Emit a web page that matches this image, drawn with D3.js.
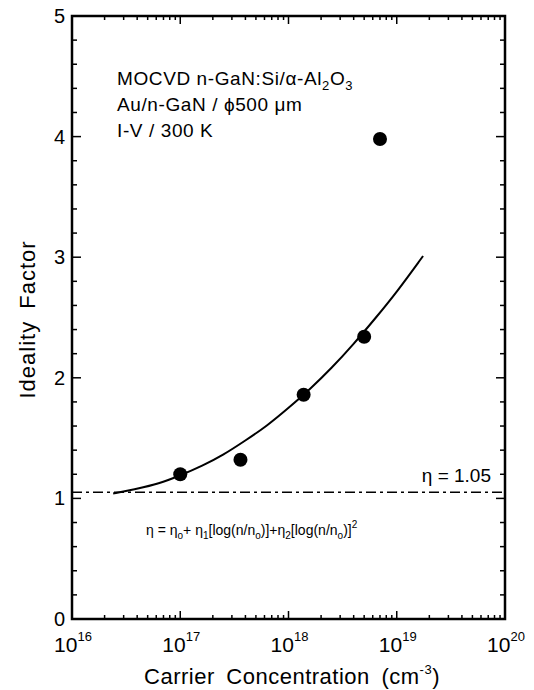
<!DOCTYPE html>
<html>
<head>
<meta charset="utf-8">
<script src="https://cdn.jsdelivr.net/npm/d3@7"></script>
<style>
  body { margin: 0; background: #fff; }
  text { font-family: "Liberation Sans", Arial, sans-serif; fill: #000; }
</style>
</head>
<body>
<svg width="534" height="690"></svg>
<script>
// measured points (carrier concentration, ideality factor)
var conc = [1.0e17, 3.6e17, 1.38e18, 5.0e18, 7.0e18];
var ideality = [1.20, 1.32, 1.86, 2.34, 3.98];

// fit curve
var fitConc = [2.4e16, 4e16, 6.3e16, 1e17, 1.6e17, 2.5e17, 4e17, 6.3e17, 1e18, 1.6e18, 2.5e18, 4e18, 6.3e18, 1e19, 1.75e19];
var fitIdeality = [1.04, 1.08, 1.12, 1.19, 1.27, 1.36, 1.48, 1.60, 1.75, 1.91, 2.08, 2.28, 2.49, 2.71, 3.01];

var etaLine = 1.05;
var yTicks = [0, 1, 2, 3, 4, 5];
var xTicks = [1e16, 1e17, 1e18, 1e19, 1e20];

var svg = d3.select("svg");
var plotL = 72, plotT = 16, plotR = 505, plotB = 619;

var x = d3.scaleLog().domain([1e16, 1e20]).range([plotL, plotR]);
var y = d3.scaleLinear().domain([0, 5]).range([plotB, plotT]);

// minor ticks
var xMinor = [];
for (var e = 16; e < 20; e++) {
    for (var m = 2; m <= 9; m++) xMinor.push(m * Math.pow(10, e));
}
var yMinor = d3.range(0, 5.001, 0.2).filter(function(v) { return Math.abs(v - Math.round(v)) > 0.01; });

var ticks = svg.append("g").attr("stroke", "#000").attr("stroke-width", 1.5);
// bottom and top
ticks.selectAll(".xb").data(xMinor).enter().append("line")
    .attr("x1", d => x(d)).attr("x2", d => x(d)).attr("y1", plotB).attr("y2", plotB - 4);
ticks.selectAll(".xt").data(xMinor).enter().append("line")
    .attr("x1", d => x(d)).attr("x2", d => x(d)).attr("y1", plotT).attr("y2", plotT + 4);
ticks.selectAll(".xbM").data(xTicks).enter().append("line")
    .attr("x1", d => x(d)).attr("x2", d => x(d)).attr("y1", plotB).attr("y2", plotB - 8);
ticks.selectAll(".xtM").data(xTicks).enter().append("line")
    .attr("x1", d => x(d)).attr("x2", d => x(d)).attr("y1", plotT).attr("y2", plotT + 8);
// left and right
ticks.selectAll(".yl").data(yMinor).enter().append("line")
    .attr("y1", d => y(d)).attr("y2", d => y(d)).attr("x1", plotL).attr("x2", plotL + 5);
ticks.selectAll(".yr").data(yMinor).enter().append("line")
    .attr("y1", d => y(d)).attr("y2", d => y(d)).attr("x1", plotR).attr("x2", plotR - 5);
ticks.selectAll(".ylM").data(yTicks).enter().append("line")
    .attr("y1", d => y(d)).attr("y2", d => y(d)).attr("x1", plotL).attr("x2", plotL + 9);
ticks.selectAll(".yrM").data(yTicks).enter().append("line")
    .attr("y1", d => y(d)).attr("y2", d => y(d)).attr("x1", plotR).attr("x2", plotR - 9);

// frame
svg.append("rect")
    .attr("x", plotL).attr("y", plotT)
    .attr("width", plotR - plotL).attr("height", plotB - plotT)
    .attr("fill", "none").attr("stroke", "#000").attr("stroke-width", 2.5);

// y tick labels
svg.append("g").selectAll("text").data(yTicks).enter().append("text")
    .attr("x", plotL - 7).attr("y", d => y(d) + 7)
    .attr("text-anchor", "end")
    .style("font-size", "20px")
    .text(d => d);

// x tick labels 10^n
var xl = svg.append("g").selectAll("text").data(xTicks).enter().append("text")
    .attr("x", d => x(d) + 1).attr("y", 652)
    .attr("text-anchor", "middle")
    .style("font-size", "21px");
xl.append("tspan").text("10");
xl.append("tspan").attr("dy", -11).style("font-size", "13px")
    .text(d => Math.round(Math.log10(d)));

// axis titles
svg.append("text")
    .attr("transform", "translate(35," + ((plotT + plotB) / 2 + 2) + ") rotate(-90)")
    .attr("text-anchor", "middle")
    .style("font-size", "22px")
    .style("letter-spacing", "1px")
    .style("word-spacing", "5px")
    .text("Ideality Factor");

var xt = svg.append("text")
    .attr("x", 292).attr("y", 684)
    .attr("text-anchor", "middle")
    .style("font-size", "22px")
    .style("letter-spacing", "0.5px")
    .style("word-spacing", "5px");
xt.append("tspan").text("Carrier Concentration (cm");
xt.append("tspan").attr("dy", -10).style("font-size", "13px").text("-3");
xt.append("tspan").attr("dy", 10).text(")");

// eta = 1.05 dash-dot line
svg.append("line")
    .attr("x1", x(1e16)).attr("x2", x(1e20))
    .attr("y1", y(etaLine)).attr("y2", y(etaLine))
    .attr("stroke", "#000").attr("stroke-width", 1.5)
    .attr("stroke-dasharray", "10,4,3,4");

svg.append("text")
    .attr("x", 491).attr("y", y(etaLine) - 10)
    .attr("text-anchor", "end")
    .style("font-size", "19px")
    .text("\u03B7 = 1.05");

// fit curve
var line = d3.line()
    .x(function(d, i) { return x(fitConc[i]); })
    .y(function(d, i) { return y(fitIdeality[i]); })
    .curve(d3.curveBasis);
svg.append("path")
    .datum(fitConc)
    .attr("d", line)
    .attr("fill", "none").attr("stroke", "#000").attr("stroke-width", 2);

// data points
svg.append("g").selectAll("circle").data(conc).enter().append("circle")
    .attr("cx", d => x(d))
    .attr("cy", (d, i) => y(ideality[i]))
    .attr("r", 7)
    .attr("fill", "#000");

// annotation
var notes = svg.append("g").style("font-size", "19px").style("letter-spacing", "0.6px");
var n1 = notes.append("text").attr("x", 117).attr("y", 85);
n1.append("tspan").text("MOCVD n-GaN:Si/\u03B1-Al");
n1.append("tspan").attr("dy", 5).style("font-size", "13px").text("2");
n1.append("tspan").attr("dy", -5).text("O");
n1.append("tspan").attr("dy", 5).style("font-size", "13px").text("3");
notes.append("text").attr("x", 117).attr("y", 111).text("Au/n-GaN / \u03D5500 \u03BCm");
notes.append("text").attr("x", 117).attr("y", 137).text("I-V / 300 K");

// formula
var f = svg.append("text").attr("x", 146).attr("y", 535).style("font-size", "14px");
f.append("tspan").text("\u03B7 = \u03B7");
f.append("tspan").attr("dy", 4).style("font-size", "10px").text("o");
f.append("tspan").attr("dy", -4).text("+ \u03B7");
f.append("tspan").attr("dy", 4).style("font-size", "10px").text("1");
f.append("tspan").attr("dy", -4).text("[log(n/n");
f.append("tspan").attr("dy", 4).style("font-size", "10px").text("o");
f.append("tspan").attr("dy", -4).text(")]+\u03B7");
f.append("tspan").attr("dy", 4).style("font-size", "10px").text("2");
f.append("tspan").attr("dy", -4).text("[log(n/n");
f.append("tspan").attr("dy", 4).style("font-size", "10px").text("o");
f.append("tspan").attr("dy", -4).text(")]");
f.append("tspan").attr("dy", -7).style("font-size", "10px").text("2");
</script>
</body>
</html>
